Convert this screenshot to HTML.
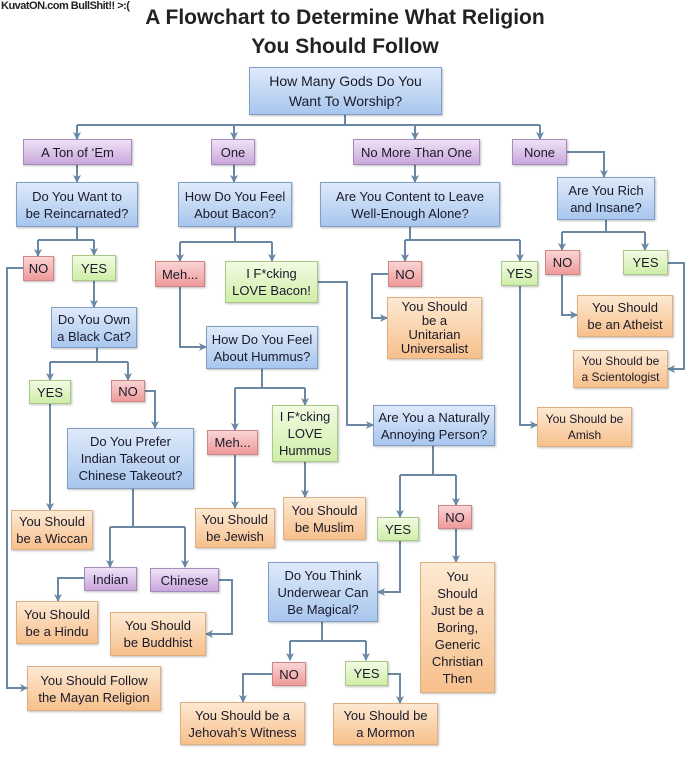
<!DOCTYPE html>
<html><head><meta charset="utf-8">
<style>
html,body{margin:0;padding:0;background:#fff;}
body{width:700px;height:767px;position:relative;overflow:hidden;font-family:"Liberation Sans",sans-serif;}
.b{position:absolute;display:flex;align-items:center;justify-content:center;text-align:center;font-size:13px;line-height:17px;color:#1a1a2a;box-sizing:border-box;box-shadow:1px 1px 2px rgba(0,0,0,0.25);}
.q{background:linear-gradient(#dfeafa,#a8c6ee);border:1px solid #7f9fc6;}
.p{background:linear-gradient(#f0e2f6,#c9a6dc);border:1px solid #a58cba;}
.r{background:linear-gradient(#fad4d4,#ee9a9a);border:1px solid #cf8585;}
.g{background:linear-gradient(#f2fbe2,#cfeea8);border:1px solid #a9c98a;}
.o{background:linear-gradient(#fde9d2,#f7c08c);border:1px solid #ddb083;}
.t{position:absolute;width:700px;text-align:center;font-weight:bold;font-size:21px;color:#222;}
svg{position:absolute;left:0;top:0;}
</style></head><body>
<div style="position:absolute;left:1px;top:0;font-size:11px;font-weight:bold;color:#222;letter-spacing:-0.5px">KuvatON.com BullShit!! &gt;:(</div>
<div class="t" style="top:6px;left:-5px">A Flowchart to Determine What Religion</div>
<div class="t" style="top:35px;left:-5px">You Should Follow</div>

<svg width="700" height="767">
<defs><marker id="a" markerWidth="8" markerHeight="8" refX="7" refY="4" orient="auto" markerUnits="userSpaceOnUse"><path d="M0,0 L8,4 L0,8 L2,4z" fill="#6a88a4"/></marker></defs>
<g stroke="#6a88a4" stroke-width="2" fill="none">
<path d="M345 115V125"/><path d="M77 125H540"/>
<path d="M77 125V139" marker-end="url(#a)"/><path d="M234 125V139" marker-end="url(#a)"/><path d="M415 125V139" marker-end="url(#a)"/><path d="M540 125V139" marker-end="url(#a)"/>
<path d="M77 165V182" marker-end="url(#a)"/><path d="M234 165V182" marker-end="url(#a)"/><path d="M415 165V182" marker-end="url(#a)"/>
<path d="M567 152H604V177" marker-end="url(#a)"/>
<path d="M77 227V240"/><path d="M38 240H94"/><path d="M38 240V256" marker-end="url(#a)"/><path d="M94 240V255" marker-end="url(#a)"/>
<path d="M23 268H7V688H27" marker-end="url(#a)"/>
<path d="M94 281V307" marker-end="url(#a)"/>
<path d="M235 227V242"/><path d="M180 242H272"/><path d="M180 242V261" marker-end="url(#a)"/><path d="M272 242V261" marker-end="url(#a)"/>
<path d="M180 287V347H206" marker-end="url(#a)"/>
<path d="M318 282H347V425H373" marker-end="url(#a)"/>
<path d="M410 227V240"/><path d="M405 240H520"/><path d="M405 240V261" marker-end="url(#a)"/><path d="M520 240V261" marker-end="url(#a)"/>
<path d="M388 274H372V318H387" marker-end="url(#a)"/>
<path d="M520 286V425H537" marker-end="url(#a)"/>
<path d="M606 220V232"/><path d="M562 232H645"/><path d="M562 232V250" marker-end="url(#a)"/><path d="M645 232V250" marker-end="url(#a)"/>
<path d="M562 275V315H577" marker-end="url(#a)"/>
<path d="M668 263H684V369H668" marker-end="url(#a)"/>
<path d="M97 348V362"/><path d="M50 362H128"/><path d="M50 362V380" marker-end="url(#a)"/><path d="M128 362V380" marker-end="url(#a)"/>
<path d="M50 404V510" marker-end="url(#a)"/>
<path d="M145 391H155V428" marker-end="url(#a)"/>
<path d="M262 369V388"/><path d="M235 388H305"/><path d="M235 388V430" marker-end="url(#a)"/><path d="M305 388V405" marker-end="url(#a)"/>
<path d="M235 455V508" marker-end="url(#a)"/>
<path d="M305 462V497" marker-end="url(#a)"/>
<path d="M133 489V527"/><path d="M110 527H185"/><path d="M110 527V567" marker-end="url(#a)"/><path d="M185 527V567" marker-end="url(#a)"/>
<path d="M84 578H58V601" marker-end="url(#a)"/>
<path d="M219 580H232V634H206" marker-end="url(#a)"/>
<path d="M433 446V475"/><path d="M400 475H456"/><path d="M400 475V517" marker-end="url(#a)"/><path d="M456 475V505" marker-end="url(#a)"/>
<path d="M400 541V592H378" marker-end="url(#a)"/>
<path d="M456 529V562" marker-end="url(#a)"/>
<path d="M322 622V641"/><path d="M290 641H366"/><path d="M290 641V660" marker-end="url(#a)"/><path d="M366 641V660" marker-end="url(#a)"/>
<path d="M272 674H243V702" marker-end="url(#a)"/>
<path d="M388 674H400V703" marker-end="url(#a)"/>
</g></svg>

<div class="b q" style="left:249px;top:67px;width:193px;height:48px;font-size:14px;line-height:20px">How Many Gods Do You<br>Want To Worship?</div>
<div class="b p" style="left:23px;top:139px;width:109px;height:26px">A Ton of ‘Em</div>
<div class="b p" style="left:211px;top:139px;width:44px;height:26px">One</div>
<div class="b p" style="left:353px;top:139px;width:127px;height:26px">No More Than One</div>
<div class="b p" style="left:512px;top:139px;width:55px;height:26px">None</div>
<div class="b q" style="left:16px;top:182px;width:122px;height:45px">Do You Want to<br>be Reincarnated?</div>
<div class="b q" style="left:178px;top:182px;width:114px;height:45px">How Do You Feel<br>About Bacon?</div>
<div class="b q" style="left:320px;top:182px;width:180px;height:45px">Are You Content to Leave<br>Well-Enough Alone?</div>
<div class="b q" style="left:557px;top:177px;width:98px;height:43px">Are You Rich<br>and Insane?</div>
<div class="b r" style="left:23px;top:256px;width:31px;height:25px">NO</div>
<div class="b g" style="left:72px;top:255px;width:44px;height:26px">YES</div>
<div class="b r" style="left:155px;top:261px;width:50px;height:26px">Meh...</div>
<div class="b g" style="left:225px;top:261px;width:93px;height:42px">I F*cking<br>LOVE Bacon!</div>
<div class="b r" style="left:388px;top:261px;width:34px;height:26px">NO</div>
<div class="b g" style="left:501px;top:261px;width:37px;height:25px">YES</div>
<div class="b r" style="left:545px;top:250px;width:35px;height:25px">NO</div>
<div class="b g" style="left:623px;top:250px;width:45px;height:25px">YES</div>
<div class="b q" style="left:51px;top:307px;width:86px;height:41px">Do You Own<br>a Black Cat?</div>
<div class="b o" style="left:387px;top:297px;width:95px;height:62px;line-height:14px">You Should<br>be a<br>Unitarian<br>Universalist</div>
<div class="b o" style="left:577px;top:295px;width:96px;height:42px">You Should<br>be an Atheist</div>
<div class="b o" style="left:573px;top:350px;width:95px;height:38px;font-size:12px;line-height:16px">You Should be<br>a Scientologist</div>
<div class="b q" style="left:206px;top:326px;width:112px;height:43px">How Do You Feel<br>About Hummus?</div>
<div class="b g" style="left:29px;top:380px;width:42px;height:24px">YES</div>
<div class="b r" style="left:111px;top:380px;width:34px;height:22px">NO</div>
<div class="b q" style="left:67px;top:428px;width:127px;height:61px">Do You Prefer<br>Indian Takeout or<br>Chinese Takeout?</div>
<div class="b q" style="left:373px;top:405px;width:122px;height:41px">Are You a Naturally<br>Annoying Person?</div>
<div class="b o" style="left:537px;top:407px;width:95px;height:40px;font-size:12px;line-height:16px">You Should be<br>Amish</div>
<div class="b r" style="left:207px;top:430px;width:51px;height:25px">Meh...</div>
<div class="b g" style="left:272px;top:405px;width:66px;height:57px">I F*cking<br>LOVE<br>Hummus</div>
<div class="b o" style="left:11px;top:510px;width:82px;height:40px">You Should<br>be a Wiccan</div>
<div class="b o" style="left:195px;top:508px;width:80px;height:40px">You Should<br>be Jewish</div>
<div class="b o" style="left:283px;top:497px;width:83px;height:43px">You Should<br>be Muslim</div>
<div class="b g" style="left:377px;top:517px;width:42px;height:24px">YES</div>
<div class="b r" style="left:438px;top:505px;width:34px;height:24px">NO</div>
<div class="b p" style="left:84px;top:567px;width:53px;height:24px">Indian</div>
<div class="b p" style="left:150px;top:568px;width:69px;height:24px">Chinese</div>
<div class="b q" style="left:268px;top:562px;width:110px;height:60px">Do You Think<br>Underwear Can<br>Be Magical?</div>
<div class="b o" style="left:420px;top:562px;width:75px;height:131px">You<br>Should<br>Just be a<br>Boring,<br>Generic<br>Christian<br>Then</div>
<div class="b o" style="left:16px;top:601px;width:82px;height:43px">You Should<br>be a Hindu</div>
<div class="b o" style="left:110px;top:612px;width:96px;height:44px">You Should<br>be Buddhist</div>
<div class="b o" style="left:27px;top:666px;width:134px;height:45px">You Should Follow<br>the Mayan Religion</div>
<div class="b r" style="left:272px;top:662px;width:34px;height:24px">NO</div>
<div class="b g" style="left:345px;top:661px;width:43px;height:25px">YES</div>
<div class="b o" style="left:180px;top:702px;width:125px;height:43px">You Should be a<br>Jehovah’s Witness</div>
<div class="b o" style="left:333px;top:703px;width:105px;height:42px">You Should be<br>a Mormon</div>
</body></html>
